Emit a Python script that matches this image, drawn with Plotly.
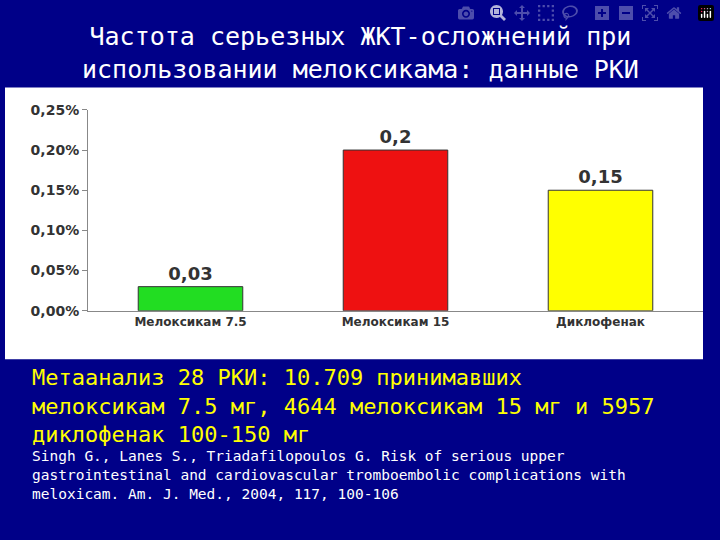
import plotly.graph_objects as go

categories = ["Мелоксикам 7.5", "Мелоксикам 15", "Диклофенак"]
values = [0.03, 0.2, 0.15]
labels = ["0,03", "0,2", "0,15"]
colors = ["#22DD22", "#EE1111", "#FFFF00"]
tickvals = [0, 0.05, 0.10, 0.15, 0.20, 0.25]
ticktext = ["<b>0,00%</b>", "<b>0,05%</b>", "<b>0,10%</b>", "<b>0,15%</b>", "<b>0,20%</b>", "<b>0,25%</b>"]

W, H = 720, 540
fig = go.Figure(go.Bar(
    x=categories, y=values, marker=dict(color=colors, line=dict(color="#333", width=1)),
    text=["<b>%s</b>" % t for t in labels], textposition="outside", width=0.51,
    textfont=dict(family="DejaVu Sans", size=18, color="#333333"), cliponaxis=False))

fig.update_layout(
    width=W, height=H, paper_bgcolor="#000088", plot_bgcolor="white",
    margin=dict(l=0, r=0, t=0, b=0), showlegend=False,
    xaxis=dict(domain=[88/W, 703/W], showline=True, linecolor="#888", ticks="",
               tickvals=categories, ticktext=["<b>%s</b>" % c for c in categories],
               tickfont=dict(family="DejaVu Sans", size=12, color="#333")),
    yaxis=dict(domain=[1-312/H, 1-105/H], range=[0, 0.25], tickvals=tickvals, ticktext=ticktext,
               showline=True, linecolor="#888", ticks="outside", ticklen=5, tickcolor="#888",
               showgrid=False, zeroline=False,
               tickfont=dict(family="DejaVu Sans", size=14, color="#333")),
    shapes=[dict(type="rect", xref="paper", yref="paper", x0=5/W, x1=703/W, y0=1-362/H, y1=1-82/H,
                 fillcolor="white", line=dict(width=0), layer="below")],
)
fig.add_annotation(xref="paper", yref="paper", x=0.5, y=1-46/H, showarrow=False, yanchor="middle",
                   text="Частота серьезных ЖКТ-осложнений при<br>использовании мелоксикама: данные РКИ",
                   font=dict(family="DejaVu Sans Mono", size=25, color="white"))
fig.add_annotation(xref="paper", yref="paper", x=30/W, y=1-410/H, showarrow=False, xanchor="left",
                   yanchor="middle", align="left",
                   text="Метаанализ 28 РКИ: 10.709 принимавших<br>мелоксикам 7.5 мг, 4644 мелоксикам 15 мг и 5957<br>диклофенак 100-150 мг",
                   font=dict(family="DejaVu Sans Mono", size=22, color="#FFFF00"))
fig.add_annotation(xref="paper", yref="paper", x=30/W, y=1-481/H, showarrow=False, xanchor="left",
                   yanchor="middle", align="left",
                   text="Singh G., Lanes S., Triadafilopoulos G. Risk of serious upper<br>gastrointestinal and cardiovascular tromboembolic complications with<br>meloxicam. Am. J. Med., 2004, 117, 100-106",
                   font=dict(family="DejaVu Sans Mono", size=14.5, color="white"))
fig.write_html("out.html", post_script="document.body.style.margin='0';document.body.style.overflow='hidden';")
